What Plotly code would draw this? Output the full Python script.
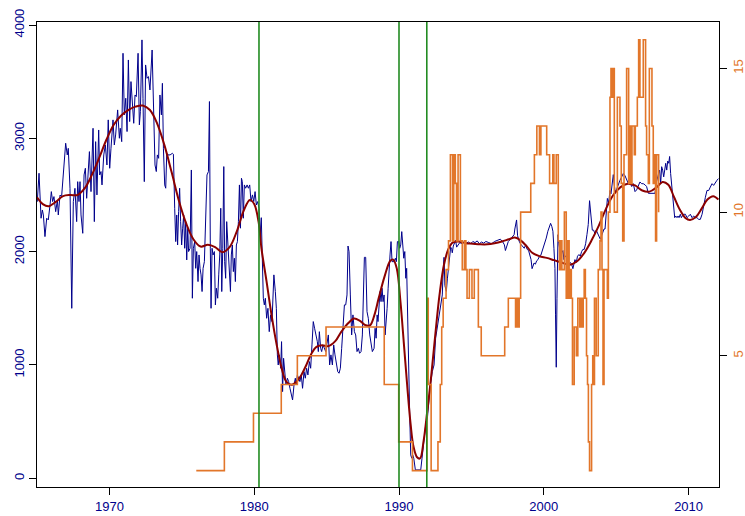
import plotly.graph_objects as go

# Monthly index (left axis), read as (decimal year, level)
blue_year = [
    1965.02, 1965.14, 1965.28, 1965.37, 1965.44, 1965.55, 1965.67, 1965.78, 1965.90, 1965.99,
    1966.08, 1966.17, 1966.29, 1966.41, 1966.47, 1966.59, 1966.70, 1966.82, 1966.98, 1967.09,
    1967.16, 1967.28, 1967.40, 1967.51, 1967.62, 1967.74, 1967.81, 1967.90, 1967.97, 1968.04,
    1968.16, 1968.25, 1968.34, 1968.43, 1968.54, 1968.62, 1968.73, 1968.87, 1968.96, 1969.05,
    1969.14, 1969.26, 1969.33, 1969.42, 1969.49, 1969.61, 1969.72, 1969.83, 1969.92, 1970.02,
    1970.11, 1970.25, 1970.34, 1970.43, 1970.57, 1970.69, 1970.75, 1970.85, 1970.94, 1971.03,
    1971.13, 1971.22, 1971.31, 1971.40, 1971.49, 1971.58, 1971.68, 1971.77, 1971.86, 1971.98,
    1972.07, 1972.14, 1972.25, 1972.32, 1972.41, 1972.50, 1972.60, 1972.70, 1972.80, 1972.95,
    1973.06, 1973.15, 1973.24, 1973.31, 1973.40, 1973.49, 1973.59, 1973.66, 1973.73, 1973.82,
    1973.89, 1973.96, 1974.05, 1974.19, 1974.35, 1974.42, 1974.51, 1974.58, 1974.65, 1974.71,
    1974.78, 1974.85, 1974.92, 1974.99, 1975.06, 1975.13, 1975.20, 1975.27, 1975.34, 1975.41,
    1975.47, 1975.57, 1975.66, 1975.73, 1975.80, 1975.89, 1975.96, 1976.03, 1976.12, 1976.19,
    1976.26, 1976.33, 1976.40, 1976.47, 1976.56, 1976.65, 1976.74, 1976.84, 1976.91, 1976.97,
    1977.02, 1977.09, 1977.16, 1977.25, 1977.32, 1977.39, 1977.48, 1977.55, 1977.62, 1977.69,
    1977.76, 1977.83, 1977.90, 1977.96, 1978.03, 1978.10, 1978.17, 1978.26, 1978.36, 1978.42,
    1978.49, 1978.56, 1978.63, 1978.70, 1978.77, 1978.84, 1978.91, 1978.98, 1979.05, 1979.12,
    1979.18, 1979.25, 1979.32, 1979.41, 1979.51, 1979.60, 1979.69, 1979.78, 1979.88, 1979.97,
    1980.06, 1980.15, 1980.24, 1980.33, 1980.42, 1980.49, 1980.56, 1980.63, 1980.70, 1980.77,
    1980.86, 1980.95, 1981.04, 1981.13, 1981.23, 1981.30, 1981.36, 1981.46, 1981.53, 1981.60,
    1981.66, 1981.73, 1981.83, 1981.89, 1981.96, 1982.03, 1982.10, 1982.19, 1982.29, 1982.38,
    1982.47, 1982.56, 1982.65, 1982.75, 1982.84, 1982.91, 1982.98, 1983.07, 1983.16, 1983.25,
    1983.34, 1983.44, 1983.53, 1983.62, 1983.71, 1983.81, 1983.90, 1983.99, 1984.08, 1984.17,
    1984.27, 1984.36, 1984.43, 1984.50, 1984.59, 1984.66, 1984.75, 1984.84, 1984.94, 1985.03,
    1985.12, 1985.21, 1985.30, 1985.40, 1985.49, 1985.58, 1985.67, 1985.77, 1985.86, 1985.95,
    1986.04, 1986.13, 1986.23, 1986.32, 1986.41, 1986.48, 1986.55, 1986.64, 1986.73, 1986.82,
    1986.92, 1987.01, 1987.10, 1987.19, 1987.28, 1987.38, 1987.47, 1987.61, 1987.70, 1987.79,
    1987.88, 1987.98, 1988.07, 1988.16, 1988.28, 1988.35, 1988.42, 1988.49, 1988.55, 1988.62,
    1988.69, 1988.76, 1988.83, 1988.90, 1988.97, 1989.04, 1989.11, 1989.18, 1989.25, 1989.31,
    1989.38, 1989.45, 1989.52, 1989.59, 1989.66, 1989.75, 1989.82, 1989.89, 1989.98, 1990.05,
    1990.12, 1990.19, 1990.26, 1990.33, 1990.40, 1990.47, 1990.53, 1990.60, 1990.67, 1990.74,
    1990.81, 1990.88, 1990.95, 1991.02, 1991.13, 1991.25, 1991.36, 1991.43, 1991.50, 1991.59,
    1991.69, 1991.78, 1991.87, 1991.96, 1992.05, 1992.17, 1992.30, 1992.42, 1992.53, 1992.65,
    1992.76, 1992.88, 1992.99, 1993.04, 1993.11, 1993.17, 1993.27, 1993.34, 1993.41, 1993.50,
    1993.57, 1993.64, 1993.68, 1993.75, 1993.82, 1993.91, 1993.98, 1994.05, 1994.20, 1994.35,
    1994.50, 1994.65, 1994.80, 1994.95, 1995.10, 1995.25, 1995.40, 1995.55, 1995.70, 1995.85,
    1996.00, 1996.20, 1996.40, 1996.60, 1996.80, 1997.00, 1997.15, 1997.28, 1997.35, 1997.45,
    1997.55, 1997.70, 1997.85, 1997.95, 1998.00, 1998.08, 1998.12, 1998.19, 1998.26, 1998.33,
    1998.45, 1998.55, 1998.65, 1998.75, 1998.85, 1998.95, 1999.05, 1999.12, 1999.19, 1999.26,
    1999.33, 1999.42, 1999.51, 1999.60, 1999.70, 1999.80, 1999.90, 1999.97, 2000.08, 2000.17,
    2000.28, 2000.40, 2000.47, 2000.56, 2000.63, 2000.70, 2000.77, 2000.81, 2000.86, 2000.91,
    2000.98, 2001.04, 2001.11, 2001.18, 2001.25, 2001.32, 2001.39, 2001.46, 2001.53, 2001.60,
    2001.67, 2001.74, 2001.83, 2001.92, 2002.01, 2002.08, 2002.15, 2002.24, 2002.33, 2002.43,
    2002.52, 2002.61, 2002.70, 2002.79, 2002.89, 2002.98, 2003.07, 2003.16, 2003.25, 2003.35,
    2003.44, 2003.53, 2003.62, 2003.72, 2003.81, 2003.90, 2003.99, 2004.06, 2004.16, 2004.23,
    2004.29, 2004.39, 2004.48, 2004.57, 2004.64, 2004.71, 2004.80, 2004.87, 2004.94, 2005.03,
    2005.15, 2005.26, 2005.38, 2005.49, 2005.61, 2005.72, 2005.84, 2005.95, 2006.07, 2006.18,
    2006.30, 2006.41, 2006.53, 2006.64, 2006.76, 2006.87, 2006.99, 2007.10, 2007.22, 2007.33,
    2007.45, 2007.56, 2007.68, 2007.75, 2007.84, 2007.93, 2008.00, 2008.07, 2008.14, 2008.21,
    2008.28, 2008.35, 2008.42, 2008.49, 2008.56, 2008.63, 2008.69, 2008.76, 2008.86, 2008.97,
    2009.04, 2009.11, 2009.20, 2009.27, 2009.34, 2009.43, 2009.50, 2009.57, 2009.66, 2009.78,
    2009.89, 2010.01, 2010.12, 2010.24, 2010.35, 2010.47, 2010.58, 2010.70, 2010.81, 2010.93,
    2011.04, 2011.16, 2011.27, 2011.39, 2011.50, 2011.62, 2011.73, 2011.85, 2011.96, 2012.06,
]
blue_val = [
    2441, 2692, 2295, 2368, 2324, 2133, 2295, 2280, 2412, 2530,
    2442, 2486, 2353, 2456, 2324, 2500, 2486, 2707, 2957, 2854,
    2912, 2560, 1500, 2442, 2559, 2265, 2618, 2442, 2618, 2324,
    2162, 2677, 2736, 2471, 2736, 2883, 2530, 3089, 2265, 2971,
    2501, 3074, 2677, 2707, 2589, 2854, 2942, 2765, 3163, 2736,
    2913, 3163, 2942, 3030, 3251, 3001, 3089, 2971, 3751, 3207,
    3354, 3060, 3692, 3148, 3501, 3354, 3133, 3383, 3369, 3751,
    3119, 3236, 3869, 3354, 2618, 3648, 3530, 3545, 3427, 3780,
    3207, 2765, 2707, 2854, 2824, 3383, 3207, 3486, 2913, 2589,
    2560, 2868, 2854, 2854, 2868, 2860, 2383, 2089, 2324, 2059,
    2354, 2560, 2265, 2059, 2207, 2324, 2030, 2265, 1927, 2207,
    2001, 2030, 2721, 1589, 2030, 2089, 1853, 2001, 1736, 1971,
    1853, 1795, 1648, 1853, 1912, 2324, 2677, 2707, 3325, 2030,
    1500, 2030, 1971, 2001, 1530, 1677, 1589, 1795, 1971, 2383,
    1648, 2030, 2751, 1912, 1765, 2265, 2089, 1795, 1648, 1971,
    2059, 1824, 1942, 1736, 2059, 2089, 2265, 2589, 2207, 2648,
    2618, 2295, 2589, 2560, 2589, 2560, 2589, 2442, 2501, 2442,
    2530, 2412, 2442, 2383, 2148, 2300, 1971, 1589, 1530, 1589,
    1412, 1500, 1294, 1442, 1383, 1736, 1795, 1648, 1500, 1089,
    1000, 1089, 971, 1206, 765, 1059, 912, 824, 883, 853,
    794, 736, 691, 824, 883, 824, 912, 883, 853, 912,
    794, 941, 883, 971, 912, 1030, 971, 1177, 1383, 1324,
    1265, 1206, 1118, 1294, 1147, 1118, 1177, 1147, 1118, 1191,
    1265, 1000, 1089, 1000, 1177, 1089, 1000, 941, 927, 971,
    1147, 1383, 1530, 1530, 1618, 2050, 2000, 1618, 1265, 1442,
    1294, 1265, 1118, 1147, 1103, 1118, 1265, 1950, 1950, 1471,
    1412, 1265, 1206, 1118, 1147, 1324, 1236, 1442, 1383, 1589,
    1648, 1559, 1677, 1559, 1618, 1265, 1353, 1500, 1677, 1853,
    1971, 2089, 1912, 1912, 1912, 1942, 1912, 2089, 2089, 2030,
    2059, 2177, 2059, 1942, 2001, 1765, 1853, 1294, 971, 559,
    206, 177, 206, 177, 74, 74, 74, 74, 74, 177,
    294, 382, 500, 530, 677, 824, 941, 1000, 1236, 1330,
    1442, 1530, 1618, 1795, 1950, 1700, 1650, 1760, 1850, 1960,
    2040, 2020, 1990, 2050, 2070, 2100, 2040, 2050, 2080, 2070,
    2090, 2075, 2085, 2070, 2090, 2080, 2095, 2070, 2085, 2075,
    2090, 2080, 2070, 2090, 2100, 2110, 2090, 2060, 2010, 2060,
    2090, 2110, 2130, 2150, 2200, 2270, 2280, 2140, 2100, 2080,
    2060, 2040, 2030, 2060, 2020, 2010, 1970, 1930, 1850, 1880,
    1900, 1890, 1920, 1930, 1960, 1970, 2010, 2030, 2090, 2120,
    2180, 2230, 2250, 2220, 2180, 2030, 1853, 1442, 980, 1589,
    2150, 2070, 2020, 1960, 1990, 2010, 1930, 1960, 1960, 1920,
    1905, 1890, 1905, 1890, 1850, 1890, 1930, 1905, 1960, 1975,
    1960, 2000, 2020, 2020, 2070, 2150, 2240, 2450, 2300, 2190,
    2190, 2160, 2190, 2160, 2130, 2110, 2140, 2160, 2200, 2200,
    2310, 2470, 2430, 2540, 2510, 2600, 2680, 2590, 2520, 2550,
    2600, 2630, 2660, 2690, 2670, 2630, 2600, 2615, 2575, 2600,
    2530, 2545, 2590, 2615, 2600, 2600, 2590, 2575, 2515, 2515,
    2515, 2515, 2515, 2600, 2660, 2690, 2720, 2600, 2750, 2720,
    2660, 2720, 2780, 2720, 2800, 2780, 2840, 2690, 2540, 2390,
    2300, 2315, 2300, 2315, 2300, 2330, 2300, 2315, 2330, 2330,
    2300, 2315, 2330, 2300, 2315, 2300, 2300, 2285, 2285, 2330,
    2420, 2480, 2540, 2540, 2570, 2600, 2585, 2615, 2630, 2645,
]

# Smoothed trend of the same index (left axis)
red_year = [
    1965.0, 1965.4, 1965.8, 1966.3, 1966.8, 1967.3, 1967.8, 1968.3, 1968.8, 1969.3,
    1969.8, 1970.3, 1970.8, 1971.3, 1971.8, 1972.3, 1972.8, 1973.3, 1973.8, 1974.3,
    1974.8, 1975.3, 1975.8, 1976.3, 1976.8, 1977.3, 1977.8, 1978.3, 1978.8, 1979.3,
    1979.7, 1980.0, 1980.3, 1980.5, 1980.85, 1981.2, 1981.55, 1981.9, 1982.2, 1982.55,
    1982.9, 1983.25, 1983.6, 1983.95, 1984.3, 1984.7, 1985.1, 1985.6, 1986.0, 1986.5,
    1986.9, 1987.3, 1987.7, 1988.0, 1988.3, 1988.6, 1989.0, 1989.4, 1989.6, 1989.85,
    1990.1, 1990.33, 1990.56, 1990.8, 1991.0, 1991.25, 1991.45, 1991.7, 1991.95, 1992.2,
    1992.5, 1992.8, 1993.1, 1993.4, 1993.7, 1994.1, 1994.6, 1995.1, 1995.6, 1996.1,
    1996.6, 1997.1, 1997.6, 1998.0, 1998.4, 1998.8, 1999.2, 1999.7, 2000.2, 2000.7,
    2001.2, 2001.8, 2002.3, 2002.8, 2003.3, 2003.8, 2004.3, 2004.8, 2005.3, 2005.8,
    2006.3, 2006.8, 2007.3, 2007.8, 2008.2, 2008.6, 2009.0, 2009.4, 2009.8, 2010.1,
    2010.5, 2010.9, 2011.3, 2011.7, 2012.06,
]
red_val = [
    2480, 2420, 2400, 2440, 2490, 2500, 2500, 2560, 2680, 2830,
    2990, 3120, 3200, 3250, 3280, 3290, 3250, 3130, 2940, 2700,
    2450, 2250, 2110, 2045, 2060, 2040, 1995, 2040, 2180, 2370,
    2457, 2420, 2265, 2030, 1740, 1440, 1180, 970, 855, 825,
    850, 910, 1000, 1100, 1160, 1175, 1165, 1210, 1290, 1370,
    1410, 1390, 1350, 1350, 1440, 1590, 1780, 1920, 1930, 1850,
    1560, 1200, 830, 480, 280, 185, 175, 330, 590, 870,
    1260, 1620, 1880, 2020, 2080, 2090, 2075, 2070, 2065, 2065,
    2075, 2090, 2110, 2125, 2100, 2050, 1990, 1960, 1945, 1925,
    1905, 1885, 1915, 1990, 2100, 2230, 2380, 2500, 2570, 2600,
    2585, 2540, 2530, 2570, 2615, 2590, 2480, 2370, 2295, 2280,
    2305, 2380, 2460, 2490, 2460,
]

# Step-valued rating (right axis), value holds until the next change
orange_year = [
    1976.00, 1977.94, 1979.95, 1981.87, 1982.98, 1984.96, 1988.98, 1989.98, 1990.93, 1991.93,
    1992.02, 1992.22, 1992.69, 1992.85, 1992.95, 1993.05, 1993.25, 1993.42, 1993.55, 1993.70,
    1993.78, 1993.89, 1993.97, 1994.08, 1994.24, 1994.37, 1994.52, 1994.62, 1994.70, 1994.86,
    1995.04, 1995.20, 1995.48, 1995.68, 1997.30, 1997.55, 1998.05, 1998.12, 1998.22, 1998.30,
    1998.40, 1999.10, 1999.35, 1999.52, 1999.70, 1999.80, 2000.20, 2000.40, 2000.62, 2000.70,
    2000.86, 2001.00, 2001.08, 2001.15, 2001.25, 2001.42, 2001.55, 2001.65, 2001.75, 2001.83,
    2001.90, 2001.98, 2002.10, 2002.25, 2002.35, 2002.48, 2002.55, 2002.65, 2002.72, 2002.79,
    2002.87, 2002.95, 2003.02, 2003.08, 2003.16, 2003.30, 2003.38, 2003.43, 2003.50, 2003.62,
    2003.76, 2003.88, 2003.95, 2004.02, 2004.09, 2004.16, 2004.39, 2004.46, 2004.57, 2004.64,
    2004.71, 2004.80, 2004.87, 2005.08, 2005.26, 2005.35, 2005.45, 2005.54, 2005.72, 2005.86,
    2005.93, 2006.00, 2006.09, 2006.25, 2006.32, 2006.46, 2006.55, 2006.64, 2006.87, 2007.03,
    2007.10, 2007.22, 2007.29, 2007.47, 2007.56, 2007.66, 2007.72, 2007.79, 2007.93,
]
orange_val = [
    1, 2, 3, 4, 5, 6, 4, 2, 1, 7,
    4, 1, 2, 4, 6, 7, 8, 9, 12, 9,
    12, 11, 9, 12, 9, 8, 9, 8, 7, 8,
    7, 8, 6, 5, 6, 7, 6, 7, 6, 7,
    10, 11, 12, 13, 12, 13, 12, 11, 12, 11,
    12, 9, 8, 9, 8, 10, 7, 9, 7, 8,
    7, 4, 6, 5, 7, 6, 7, 6, 7, 8,
    7, 5, 4, 2, 1, 4, 5, 4, 7, 5,
    8, 9, 10, 8, 4, 8, 7, 10, 14, 15,
    14, 15, 10, 14, 13, 11, 9, 12, 15, 11,
    13, 11, 13, 12, 13, 14, 16, 14, 16, 13,
    12, 11, 15, 13, 11, 12, 9, 12, 10,
]

# Dates of the marked events
event_years = [1980.33, 1990.0, 1991.92]

x_ticks = [1970, 1980, 1990, 2000, 2010]
left_ticks = [0, 1000, 2000, 3000, 4000]
right_ticks = [5, 10, 15]

BLUE = "#00008B"
RED = "#8B0000"
ORANGE = "#E2762A"
GREEN = "#228B22"
FONT = "Liberation Sans, Arial, sans-serif"

fig = go.Figure()
fig.add_trace(go.Scatter(x=blue_year, y=blue_val, mode="lines",
                         line=dict(color=BLUE, width=1), yaxis="y"))
fig.add_trace(go.Scatter(x=red_year, y=red_val, mode="lines",
                         line=dict(color=RED, width=2, shape="spline", smoothing=1.0),
                         yaxis="y"))
fig.add_trace(go.Scatter(x=orange_year, y=orange_val, mode="lines",
                         line=dict(color=ORANGE, width=1.6, shape="hv"), yaxis="y2"))

for ey in event_years:
    fig.add_shape(type="line", x0=ey, x1=ey, y0=0, y1=1, xref="x", yref="paper",
                  line=dict(color=GREEN, width=1.6), layer="above")

fig.update_layout(
    width=745, height=516, autosize=False,
    margin=dict(l=37, r=26, t=22, b=29, pad=0),
    paper_bgcolor="white", plot_bgcolor="white",
    showlegend=False,
    font=dict(family=FONT, size=13),
    xaxis=dict(range=[1965.0, 2012.1], tickvals=x_ticks, ticks="outside", ticklen=7,
               tickcolor="black", showline=True, mirror=True, linecolor="black",
               linewidth=1, showgrid=False, zeroline=False, automargin=False,
               tickfont=dict(color=BLUE, size=13, family=FONT)),
    yaxis=dict(range=[-77, 4027], tickvals=left_ticks, ticks="outside", ticklen=7,
               tickcolor="black", showline=True, mirror=True, linecolor="black",
               linewidth=1, showgrid=False, zeroline=False, tickangle=-90,
               automargin=False,
               tickfont=dict(color=BLUE, size=13, family=FONT)),
    yaxis2=dict(range=[0.43, 16.62], tickvals=right_ticks, overlaying="y", side="right",
                ticks="outside", ticklen=7, tickcolor="black", showline=False,
                showgrid=False, zeroline=False, tickangle=-90, automargin=False,
                tickfont=dict(color=ORANGE, size=13, family=FONT)),
)

fig.write_html("out.html")
